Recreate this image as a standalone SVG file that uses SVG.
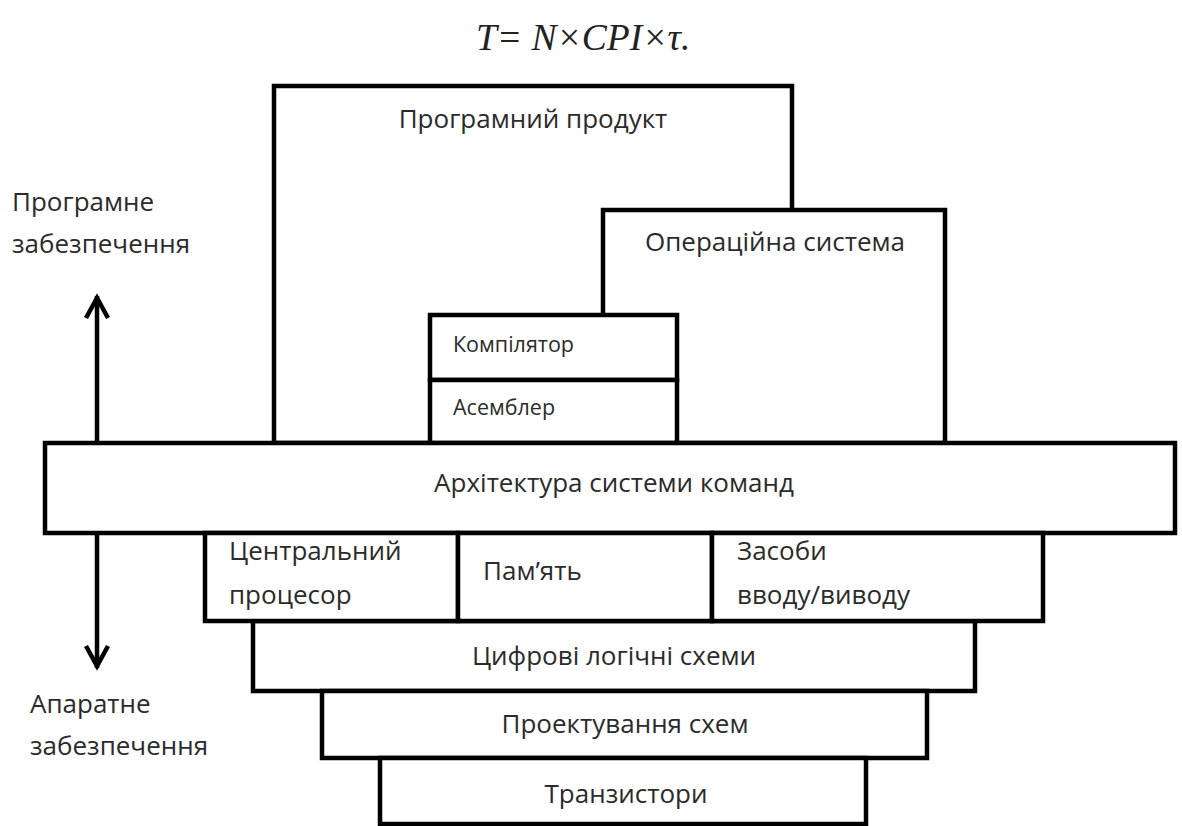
<svg xmlns="http://www.w3.org/2000/svg" width="1182" height="826" viewBox="0 0 1182 826">
<defs>
<style>
.box{fill:#fff;stroke:#000;stroke-width:4.5;stroke-linejoin:miter}
.t{font-family:"Open Sans","Noto Sans","DejaVu Sans",sans-serif;font-size:26px;fill:#2b2b2b}
.s{font-family:"Open Sans","Noto Sans","DejaVu Sans",sans-serif;font-size:21.5px;fill:#2b2b2b}
.c{text-anchor:middle}
.arr{fill:none;stroke:#000;stroke-width:4.5}
</style>
</defs>
<rect width="1182" height="826" fill="#fff"/>
<text x="476" y="50" style="font-family:'Liberation Serif','Times New Roman',serif;font-style:italic;font-size:37.5px;fill:#222">T= N×CPI×τ.</text>
<g id="connectors">
<line class="arr" x1="97" y1="296" x2="97" y2="668"/>
<polyline class="arr" points="86,318 97,298 108,318"/>
<polyline class="arr" points="86,646 97,666 108,646"/>
</g>
<g id="prog-product"><rect class="box" x="274" y="86" width="518" height="357"/><text class="t c" x="533" y="128">Програмний продукт</text></g>
<g id="os"><rect class="box" x="603" y="210" width="342" height="233"/><text class="t c" x="775" y="251">Операційна система</text></g>
<g id="compiler"><rect class="box" x="430" y="315" width="247" height="65"/><text class="s" x="453" y="352">Компілятор</text></g>
<g id="assembler"><rect class="box" x="430" y="380" width="247" height="63"/><text class="s" x="453" y="415">Асемблер</text></g>
<g id="arch"><rect class="box" x="45" y="443" width="1130" height="90"/><text class="t c" x="614" y="492">Архітектура системи команд</text></g>
<g id="logic"><rect class="box" x="253" y="621" width="722" height="70"/><text class="t c" x="614" y="665">Цифрові логічні схеми</text></g>
<g id="design"><rect class="box" x="322" y="691" width="605" height="67"/><text class="t c" x="625" y="733">Проектування схем</text></g>
<g id="trans"><rect class="box" x="380" y="758" width="486" height="66"/><text class="t c" x="626" y="803">Транзистори</text></g>
<g id="cpu"><rect class="box" x="205" y="533" width="253" height="88"/><text class="t" x="229" y="560">Центральний</text><text class="t" x="229" y="604">процесор</text></g>
<g id="mem"><rect class="box" x="458" y="533" width="254" height="88"/><text class="t" x="483" y="580">Пам’ять</text></g>
<g id="io"><rect class="box" x="712" y="533" width="331" height="88"/><text class="t" x="737" y="560">Засоби</text><text class="t" x="737" y="604">вводу/виводу</text></g>
<g id="labels">
<text class="t" x="12" y="211">Програмне</text>
<text class="t" x="12" y="253">забезпечення</text>
<text class="t" x="30" y="713">Апаратне</text>
<text class="t" x="30" y="755">забезпечення</text>
</g>
</svg>
